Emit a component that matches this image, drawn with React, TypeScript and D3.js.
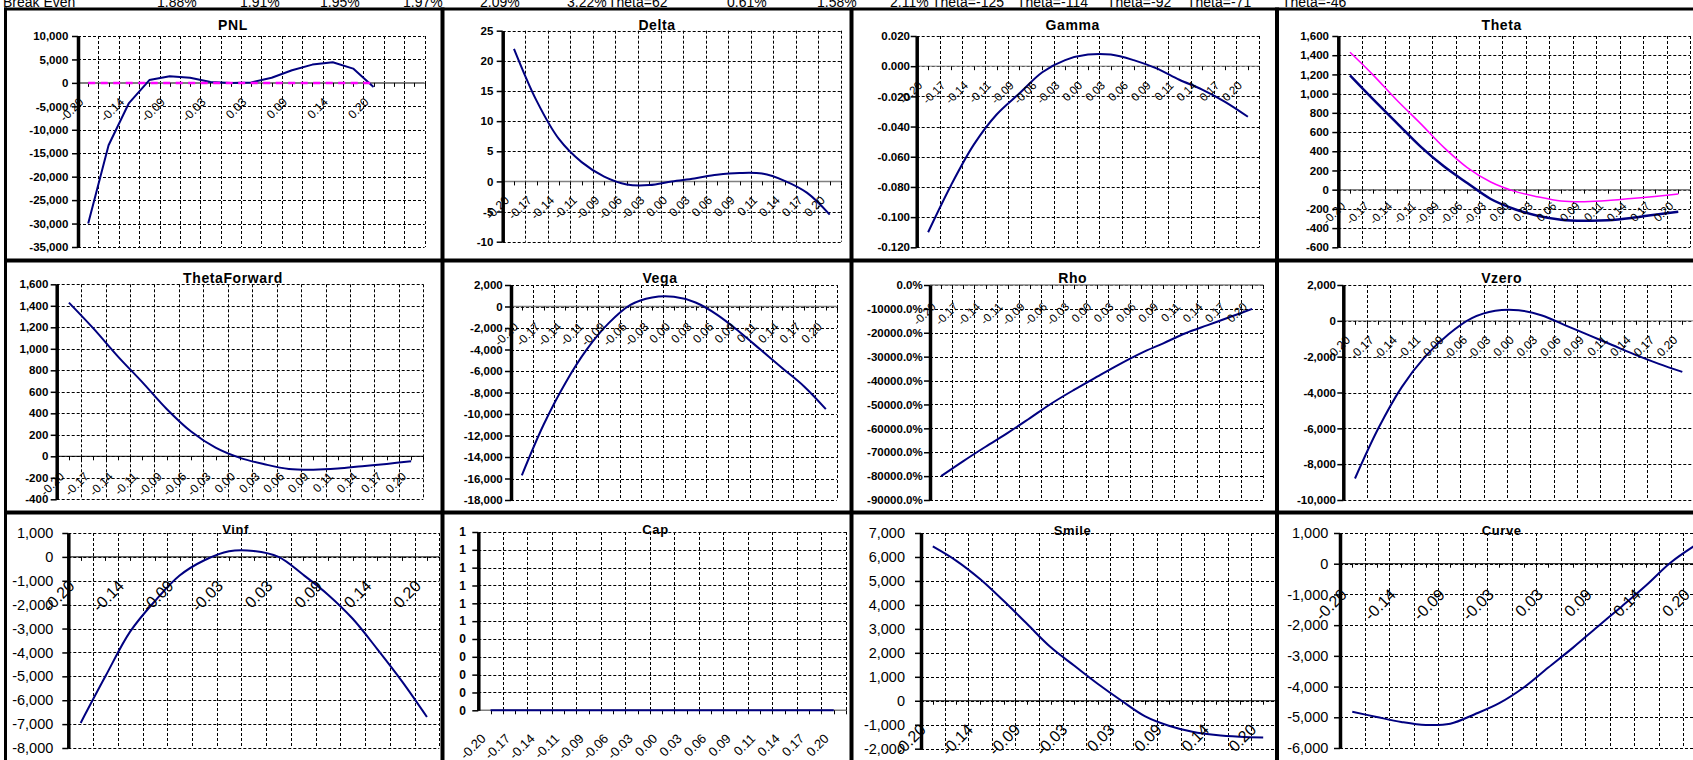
import React, { useEffect, useRef } from "react";
import * as d3 from "d3";

// spreadsheet row that shows above the charts (only its lower half is visible)
const headerTexts = ["Break Even", "1.88%", "1.91%", "1.95%", "1.97%", "2.09%", "3.22%", "Theta=62", "0.61%", "1.58%", "2.11%", "Theta=-125", "Theta=-114", "Theta=-92", "Theta=-71", "Theta=-46"];
const headerX = [3, 157, 240, 320, 403, 480, 567, 608, 727, 817, 890, 932, 1017, 1107, 1187, 1282];

const xCats = ["-0.20", "-0.17", "-0.14", "-0.11", "-0.09", "-0.06", "-0.03", "0.00", "0.03", "0.06", "0.09", "0.11", "0.14", "0.17", "0.20"];

const pnl = [-30000, -13300, -4300, 600, 1400, 1100, 200, 0, 100, 1100, 2700, 3900, 4400, 3050, -900];
const pnlBreakEven = [0, 0, 0, 0, 0, 0, 0, 0, 0, 0, 0, 0, 0, 0, 0];
const delta = [22, 13.4, 7, 3.2, 0.8, -0.5, -0.6, 0, 0.5, 1.1, 1.4, 1.3, 0.1, -1.9, -5.5];
const gamma = [-0.11, -0.079, -0.052, -0.032, -0.018, -0.004, 0.004, 0.0077, 0.0077, 0.004, -0.0015, -0.009, -0.0155, -0.0236, -0.0335];
const theta = [1190, 937, 694, 451, 243, 69, -97, -201, -271, -312, -323, -319, -295, -260, -229];
const thetaFwd = [1430, 1190, 930, 690, 440, 230, 80, -15, -74, -118, -125, -114, -92, -71, -46];
const vega = [-15700, -11000, -7130, -3970, -1550, 150, 840, 900, 370, -775, -2325, -4030, -5740, -7440, -9550];
const rho = [-800, -737, -677, -619, -557, -494, -438, -385, -333, -285, -244, -202, -168, -134, -100];
const vzero = [-8800, -6000, -3700, -2000, -750, 150, 560, 590, 300, -250, -800, -1350, -1900, -2400, -2850];
const vinf = [-6950, -5000, -3130, -1850, -780, -140, 240, 250, 0, -750, -1580, -2590, -3870, -5220, -6700];
const cap = [0, 0, 0, 0, 0, 0, 0, 0, 0, 0, 0, 0, 0, 0, 0];
const smile = [6440, 5840, 5080, 4170, 3200, 2230, 1460, 700, 0, -650, -1040, -1290, -1430, -1500, -1530];
const curve = [-4820, -4990, -5150, -5250, -5210, -4900, -4540, -4030, -3380, -2740, -2060, -1390, -700, 40, 600];

const NAVY = "#000080";
const MAGENTA = "#ff00ff";
const GRAY = "#808080";
const FONT = "'Liberation Sans', Arial, Helvetica, sans-serif";

const locale = d3.formatLocale({ decimal: ".", thousands: ",", grouping: [3], currency: ["$", ""], minus: "-" });
const fmtComma = locale.format(",");
const fmtInt = locale.format("d");
const fmtGamma = locale.format(".3f");
const fmtRho = locale.format(".1%");
const fmtCap = (v: number) => String(Math.round(v));

const top = { ts: 14, yFont: 11.5, yBold: true, xFont: 12, smooth: true };
const bottom = { ts: 13, yFont: 14.5, yBold: false, xFont: 16, smooth: true };

const panels = [
  { ...top, smooth: false, title: "PNL", series: [{ v: pnl, c: NAVY, w: 2 }, { v: pnlBreakEven, c: MAGENTA, w: 2.5, dash: "7,5.5" }],
    yMin: -35000, yMax: 10000, step: 5000, fmt: fmtComma, cats: 17, every: 2,
    x0: 78, x1: 424.5, y0: 36, y1: 247, tx: 233, ty: 30, yGap: 9.7, xDx: -4, xDy: 20, zc: GRAY, zw: 2 },
  { ...top, title: "Delta", series: [{ v: delta, c: NAVY, w: 2 }],
    yMin: -10, yMax: 25, step: 5, fmt: fmtInt, cats: 15, every: 1,
    x0: 502.7, x1: 841, y0: 30.7, y1: 241.7, tx: 657, ty: 29.5, yGap: 9.4, xDx: -4, xDy: 19.5, zc: GRAY, zw: 1.5 },
  { ...top, xFont: 11.5, title: "Gamma", series: [{ v: gamma, c: NAVY, w: 2 }],
    yMin: -0.12, yMax: 0.02, step: 0.02, fmt: fmtGamma, cats: 15, every: 1,
    x0: 916.7, x1: 1259.3, y0: 36, y1: 247.3, tx: 1072.7, ty: 30, yGap: 6.7, xDx: -5, xDy: 20, zc: GRAY, zw: 1 },
  { ...top, xFont: 11.5, title: "Theta", series: [{ v: thetaFwd, c: MAGENTA, w: 1.5 }, { v: theta, c: NAVY, w: 2.5 }],
    yMin: -600, yMax: 1600, step: 200, fmt: fmtComma, cats: 15, every: 1,
    x0: 1338.3, x1: 1690, y0: 36, y1: 247.3, tx: 1501.7, ty: 30, yGap: 9.3, xDx: -4, xDy: 17, zc: GRAY, zw: 1.5 },
  { ...top, title: "ThetaForward", series: [{ v: thetaFwd, c: NAVY, w: 2 }],
    yMin: -400, yMax: 1600, step: 200, fmt: fmtComma, cats: 15, every: 1,
    x0: 56.7, x1: 423.3, y0: 284.3, y1: 499.3, tx: 233, ty: 282.5, yGap: 8.4, xDx: -4, xDy: 21, zc: "#000", zw: 1 },
  { ...top, title: "Vega", series: [{ v: vega, c: NAVY, w: 2 }],
    yMin: -18000, yMax: 2000, step: 2000, fmt: fmtComma, cats: 15, every: 1,
    x0: 511, x1: 836.7, y0: 285, y1: 500, tx: 660, ty: 282.5, yGap: 8.3, xDx: -3, xDy: 21, zc: GRAY, zw: 1.5 },
  { ...top, xFont: 11.5, title: "Rho", series: [{ v: rho, c: NAVY, w: 2 }],
    yMin: -900, yMax: 0, step: 100, fmt: fmtRho, cats: 15, every: 1,
    x0: 930, x1: 1263.3, y0: 285, y1: 500, tx: 1072.7, ty: 282.5, yGap: 7.3, xDx: -4.5, xDy: 22.5, zc: GRAY, zw: 1.5 },
  { ...top, title: "Vzero", series: [{ v: vzero, c: NAVY, w: 2 }],
    yMin: -10000, yMax: 2000, step: 2000, fmt: fmtComma, cats: 15, every: 1,
    x0: 1343.3, x1: 1694, y0: 285, y1: 500, tx: 1501.7, ty: 282.5, yGap: 7.3, xDx: -4, xDy: 20, zc: GRAY, zw: 1 },
  { ...bottom, title: "Vinf", series: [{ v: vinf, c: NAVY, w: 2 }],
    yMin: -8000, yMax: 1000, step: 1000, fmt: fmtComma, cats: 15, every: 2,
    x0: 68.3, x1: 439.3, y0: 533, y1: 748, tx: 235.5, ty: 534, yGap: 15, xDx: -5, xDy: 30, zc: "#000", zw: 1 },
  { ...bottom, yFont: 12, yBold: true, xFont: 13, title: "Cap", series: [{ v: cap, c: NAVY, w: 2 }],
    yMin: 0, yMax: 1, step: 0.1, fmt: fmtCap, cats: 15, every: 1,
    x0: 478.3, x1: 846, y0: 532, y1: 710.3, tx: 655.5, ty: 534, yGap: 12.3, xDx: -4, xDy: 29, zc: GRAY, zw: 1.5 },
  { ...bottom, title: "Smile", series: [{ v: smile, c: NAVY, w: 2 }],
    yMin: -2000, yMax: 7000, step: 1000, fmt: fmtComma, cats: 15, every: 2,
    x0: 921, x1: 1275, y0: 533, y1: 748.7, tx: 1072.5, ty: 535, yGap: 16, xDx: -6, xDy: 30, zc: "#000", zw: 1 },
  { ...bottom, title: "Curve", series: [{ v: curve, c: NAVY, w: 2 }],
    yMin: -6000, yMax: 1000, step: 1000, fmt: fmtComma, cats: 15, every: 2,
    x0: 1340, x1: 1707.5, y0: 533, y1: 748, tx: 1501.7, ty: 535, yGap: 11.7, xDx: -4.5, xDy: 32, zc: "#000", zw: 1 },
];

const crisp = (v: number) => Math.round(v) + 0.5;

function drawPanel(svg: any, p: any) {
  const g = svg.append("g");
  const x = d3.scaleBand<number>().domain(d3.range(p.cats)).range([p.x0, p.x1]);
  const bw = x.bandwidth();
  const cx = (i: number) => (x(i) as number) + bw / 2;
  const y = d3.scaleLinear().domain([p.yMin, p.yMax]).range([p.y1, p.y0]);
  const n = Math.round((p.yMax - p.yMin) / p.step);
  const ticks = d3.range(n + 1).map((k) => +(p.yMin + k * p.step).toFixed(6));

  // dashed grid
  const grid = g.append("g").attr("stroke", "#000").attr("stroke-width", 1).attr("stroke-dasharray", "3,2");
  grid.selectAll(".h").data(ticks).enter().append("line")
    .attr("x1", p.x0).attr("x2", p.x1)
    .attr("y1", (d: number) => crisp(y(d))).attr("y2", (d: number) => crisp(y(d)));
  grid.selectAll(".v").data(d3.range(1, p.cats + 1)).enter().append("line")
    .attr("x1", (i: number) => crisp(p.x0 + i * bw)).attr("x2", (i: number) => crisp(p.x0 + i * bw))
    .attr("y1", p.y0).attr("y2", p.y1);

  // category axis at zero
  const zy = y(0);
  g.append("line").attr("x1", p.x0).attr("x2", p.x1).attr("y1", zy).attr("y2", zy)
    .attr("stroke", p.zc).attr("stroke-width", p.zw);
  g.append("g").selectAll("line").data(d3.range(1, 2 * p.cats + 1)).enter().append("line")
    .attr("x1", (k: number) => crisp(p.x0 + (k * bw) / 2)).attr("x2", (k: number) => crisp(p.x0 + (k * bw) / 2))
    .attr("y1", zy).attr("y2", zy + 4).attr("stroke", "#000").attr("stroke-width", 1);

  // series
  const line = d3.line<number>().x((d, i) => cx(i)).y((d) => y(d))
    .curve(p.smooth ? d3.curveCatmullRom.alpha(0.5) : d3.curveLinear);
  p.series.forEach((s: any) => {
    g.append("path").attr("d", line(s.v)).attr("fill", "none")
      .attr("stroke", s.c).attr("stroke-width", s.w)
      .attr("stroke-dasharray", s.dash || null).attr("stroke-linejoin", "round");
  });

  // value axis
  const yAxis = d3.axisLeft(y).tickValues(ticks).tickFormat(p.fmt).tickSize(6).tickSizeOuter(0).tickPadding(p.yGap - 6);
  const yg = g.append("g").attr("transform", `translate(${p.x0},0)`).call(yAxis);
  yg.attr("font-size", p.yFont).attr("font-family", FONT).attr("font-weight", p.yBold ? "bold" : "normal");
  yg.select(".domain").attr("stroke", "#000").attr("stroke-width", 3.5);
  yg.selectAll(".tick line").attr("stroke-width", 1.5);
  yg.selectAll(".tick text").attr("fill", "#000");

  // rotated category labels
  const labelled = d3.range(0, xCats.length, p.every);
  const xAxis = d3.axisBottom(x).tickValues(labelled).tickFormat((i: number) => xCats[i]).tickSize(0);
  const xg = g.append("g").attr("transform", `translate(0,${zy})`).call(xAxis);
  xg.select(".domain").remove();
  xg.attr("font-size", p.xFont).attr("font-family", FONT);
  xg.selectAll(".tick text")
    .attr("x", 0).attr("y", 0).attr("dy", 0).attr("fill", "#000")
    .attr("text-anchor", "end")
    .attr("transform", `translate(${p.xDx},${p.xDy}) rotate(-45)`);

  g.append("text").text(p.title)
    .attr("x", p.tx).attr("y", p.ty).attr("text-anchor", "middle")
    .attr("font-family", FONT).attr("font-weight", "bold").attr("font-size", p.ts)
    .attr("letter-spacing", 0.6);
}

export default function App() {
  const ref = useRef<SVGSVGElement>(null);

  useEffect(() => {
    document.body.style.margin = "0";
    document.body.style.overflow = "hidden";
    const svg = d3.select(ref.current);
    svg.selectAll("*").remove();
    svg.append("rect").attr("width", 1693).attr("height", 760).attr("fill", "#fff");

    svg.append("g").selectAll("text").data(headerTexts).enter().append("text")
      .attr("x", (d: string, i: number) => headerX[i]).attr("y", 6.5)
      .attr("font-family", FONT).attr("font-size", 14)
      .text((d: string) => d);

    panels.forEach((p) => drawPanel(svg, p));

    // cell borders around the charts
    const b = svg.append("g").attr("stroke", "#000");
    [5.5, 442.5, 851.5, 1277].forEach((bx, i) => {
      b.append("line").attr("x1", bx).attr("x2", bx).attr("y1", 7.5).attr("y2", 760).attr("stroke-width", i === 0 ? 3 : 4);
    });
    [9, 260.5, 512.5].forEach((by, i) => {
      b.append("line").attr("x1", 4).attr("x2", 1693).attr("y1", by).attr("y2", by).attr("stroke-width", i === 0 ? 3 : 4);
    });
  }, []);

  return (
    <div style={{ position: "absolute", left: 0, top: 0 }}>
      <svg ref={ref} width={1693} height={760} style={{ display: "block" }} />
    </div>
  );
}
